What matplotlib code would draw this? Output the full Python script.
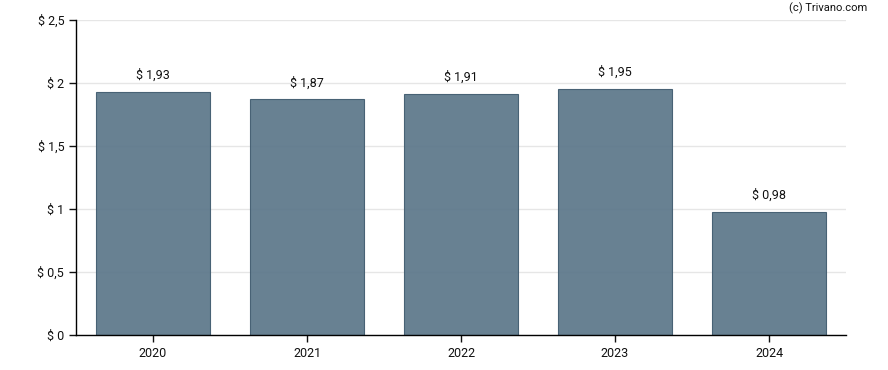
import matplotlib
matplotlib.use("Agg")
import matplotlib.pyplot as plt

# Werte aus dem Diagramm
years = ["2020", "2021", "2022", "2023", "2024"]
values = [1.93, 1.87, 1.91, 1.95, 0.98]
y_ticks = [0, 0.5, 1, 1.5, 2, 2.5]

plt.rcParams["font.family"] = ["Roboto", "DejaVu Sans"]

fig = plt.figure(figsize=(8.88, 3.70), dpi=100)
ax = fig.add_axes([76 / 888, 35 / 370, 770 / 888, 315 / 370])

x = range(len(years))
ax.bar(x, values, width=0.74, color="#5b7689", edgecolor="#3f5a6e",
       linewidth=0.8, alpha=0.92, zorder=2)

for i, v in zip(x, values):
    ax.text(i, v + 0.08, "$ " + f"{v:.2f}".replace(".", ","),
            ha="center", va="bottom", fontsize=9, color="#111111")

ax.set_xlim(-0.5, len(years) - 0.5)
ax.set_ylim(0, 2.5)
ax.set_xticks(list(x))
ax.set_xticklabels(years)
ax.set_yticks(y_ticks)
ax.set_yticklabels(["$ " + (f"{t:g}".replace(".", ",")) for t in y_ticks])
ax.tick_params(axis="both", labelsize=9, colors="#111111", length=5, width=1)
ax.grid(axis="y", color="#e6e6e6", linewidth=1, zorder=0)
ax.set_axisbelow(True)

for s in ["top", "right"]:
    ax.spines[s].set_visible(False)
for s in ["left", "bottom"]:
    ax.spines[s].set_color("black")
    ax.spines[s].set_linewidth(1)

fig.text(867 / 888, 1 - 8 / 370, "(c) Trivano.com", ha="right", va="center",
         fontsize=8, color="#111111")

fig.savefig("out.png", dpi=100)
plt.close(fig)
